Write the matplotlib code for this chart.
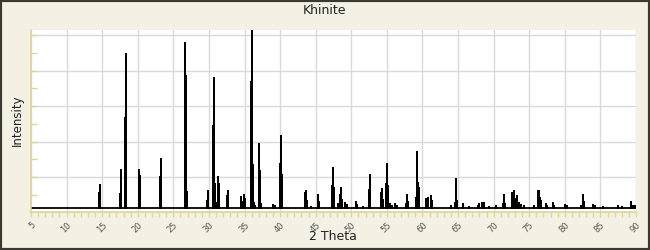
import numpy as np
import matplotlib
matplotlib.use("Agg")
import matplotlib.pyplot as plt
from matplotlib.patches import Rectangle

# peak positions (2 theta) and relative intensities (max = 100)
two_theta = [14.62, 14.76, 17.57, 17.71, 18.27, 18.41, 20.24, 20.38, 23.06, 23.20,
             26.58, 26.72, 26.86, 29.67, 29.81, 30.51, 30.65, 30.79, 30.93, 31.05,
             31.32, 31.46, 32.48, 32.62, 34.45, 34.59, 34.88, 35.02, 35.87, 36.01,
             36.15, 36.35, 36.50, 36.99, 37.13, 37.30, 39.06, 39.30, 39.94, 40.08,
             40.22, 43.46, 43.60, 43.75, 44.30, 45.34, 45.49, 47.31, 47.45, 47.59,
             48.20, 48.39, 48.53, 48.67, 49.10, 49.35, 50.64, 50.78, 51.60, 52.52,
             52.66, 54.16, 54.30, 54.44, 54.87, 55.01, 55.15, 55.45, 55.65, 56.10,
             56.40, 57.68, 57.82, 57.96, 59.08, 59.22, 59.36, 59.50, 60.54, 60.73,
             61.24, 61.38, 63.96, 64.57, 64.71, 64.85, 65.72, 66.60, 67.75, 67.95,
             68.35, 68.60, 69.40, 70.30, 71.28, 71.42, 71.56, 72.60, 72.80, 72.95,
             73.30, 73.50, 73.90, 74.20, 75.60, 76.20, 76.34, 76.48, 76.62, 77.35,
             77.50, 78.30, 78.45, 80.05, 80.30, 82.25, 82.60, 82.74, 84.00, 84.20,
             85.30, 87.50, 88.10, 89.35, 89.55, 89.80]
intensity = [9.0, 13.5, 8.4, 21.9, 51.1, 87.1, 21.9, 18.5, 18.0, 28.1,
             93.3, 74.7, 9.6, 4.5, 10.1, 46.6, 73.6, 14.0, 3.4, 1.7,
             18.0, 14.0, 7.3, 10.1, 6.7, 3.9, 7.9, 5.6, 71.3, 100.0,
             24.7, 3.4, 1.7, 36.5, 21.3, 2.8, 2.2, 1.7, 25.3, 41.0,
             19.1, 9.0, 10.1, 4.5, 1.1, 7.9, 3.9, 12.9, 23.0, 11.8,
             2.8, 7.9, 11.8, 5.1, 3.4, 2.2, 3.9, 2.2, 1.1, 10.7,
             19.1, 9.0, 11.2, 5.1, 14.0, 25.3, 12.9, 2.8, 1.7, 2.8,
             1.7, 2.8, 7.9, 3.9, 6.2, 32.0, 14.6, 11.8, 5.6, 6.2,
             7.3, 4.5, 1.7, 3.4, 16.9, 4.5, 2.8, 1.1, 1.7, 2.8,
             3.4, 3.4, 1.1, 1.7, 2.8, 7.9, 2.8, 9.0, 10.1, 5.6,
             7.3, 3.4, 2.2, 1.7, 1.7, 10.1, 10.1, 6.2, 4.5, 2.8,
             1.7, 3.4, 1.7, 2.2, 1.7, 1.7, 7.9, 3.9, 2.2, 1.7,
             1.1, 1.7, 1.1, 3.9, 1.7, 1.7]

title = "Khinite"
x_ticks = list(range(5, 91, 5))

bg = "#f4f1e4"
axis_col = "#ddd59a"

fig = plt.figure(figsize=(6.5, 2.5), dpi=100, facecolor=bg)
fig.patches.append(Rectangle((0, 0), 1, 1, transform=fig.transFigure,
                             fill=False, edgecolor="#3c3a30", linewidth=3))
ax = fig.add_axes([31 / 650, 38 / 250, 605 / 650, 182 / 250])
ax.set_facecolor("white")

# stick pattern as a single polyline
xs, ys = [5], [0]
for t, h in zip(two_theta, intensity):
    xs += [t, t, t]
    ys += [0, h, 0]
xs.append(90)
ys.append(0)
ax.plot(xs, ys, color="black", linewidth=1.3, solid_joinstyle="miter")

ax.set_xlim(5, 90)
ax.set_ylim(-2.25, 100)
ax.set_xticks(x_ticks)
ax.set_xticks(np.arange(5, 91, 1), minor=True)
ax.set_yticks(np.arange(17.4, 100, 19.9))
ax.set_yticks(np.arange(7.45, 100, 19.9), minor=True)
ax.set_yticklabels([])
ax.grid(True, which="major", color="#d9d9d9", linewidth=1)
ax.set_axisbelow(True)

for s in ["top", "right"]:
    ax.spines[s].set_visible(False)
for s in ["left", "bottom"]:
    ax.spines[s].set_color(axis_col)
    ax.spines[s].set_linewidth(1.2)

ax.tick_params(axis="y", which="both", direction="in", length=4, color=axis_col, width=1)
ax.tick_params(axis="x", which="both", direction="out", length=3.5, color=axis_col, width=1,
               labelsize=6, labelcolor="#555555", pad=2.5)
for lab in ax.get_xticklabels():
    lab.set_rotation(45)
    lab.set_ha("right")
    lab.set_va("top")
    lab.set_rotation_mode("anchor")

fig.text(333 / 650, 1 - 236 / 250, "2 Theta", ha="center", va="center",
         fontsize=9, color="#222222")
fig.text(17 / 650, 1 - 120 / 250, "Intensity", ha="center", va="center",
         rotation=90, fontsize=8.5, color="#222222")
fig.text(0.5, 1 - 10 / 250, title, ha="center", va="center", fontsize=9, color="#222222")

fig.savefig("out.png", dpi=100, facecolor=bg)
